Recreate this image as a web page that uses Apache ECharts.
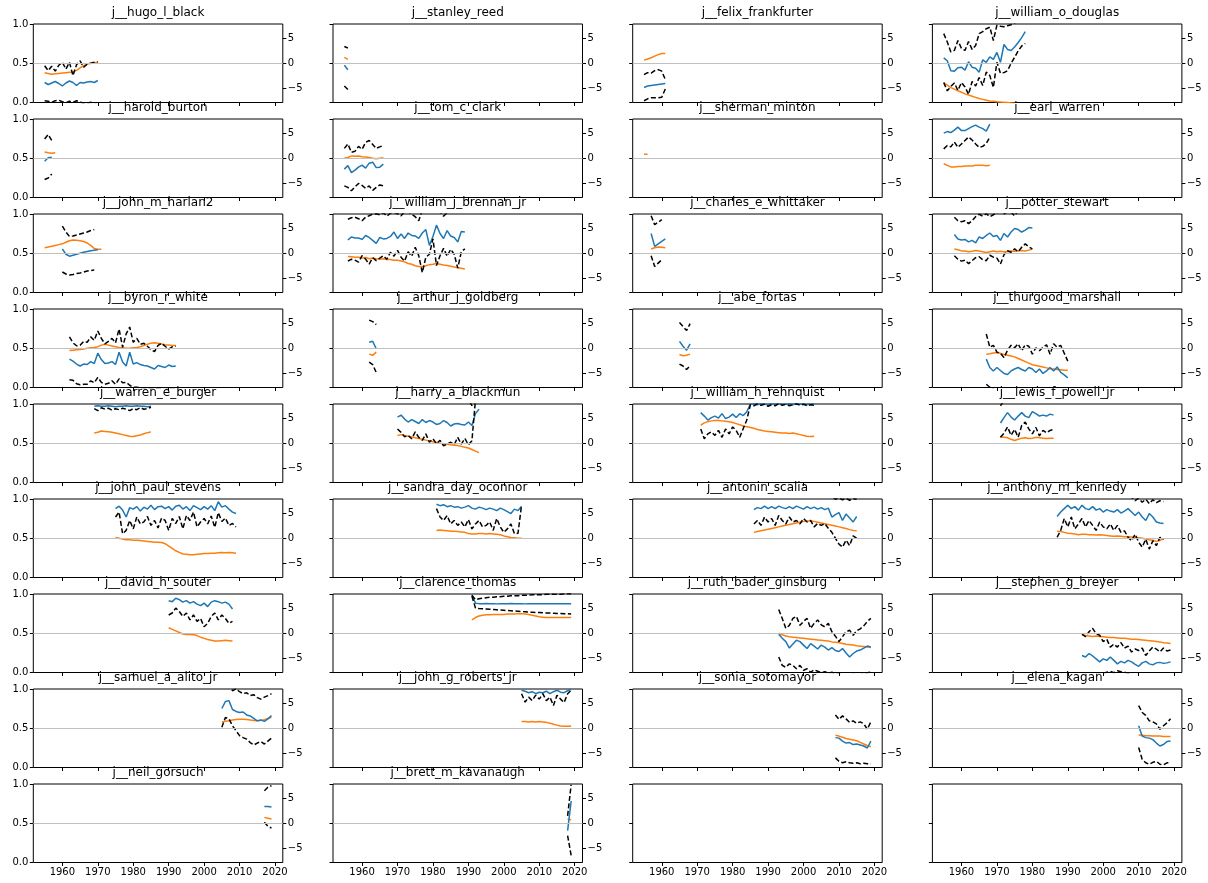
<!DOCTYPE html>
<html>
<head>
<meta charset="utf-8">
<script src="https://cdn.jsdelivr.net/npm/echarts/dist/echarts.min.js"></script>
<style>
  html, body { margin: 0; padding: 0; background: #fff; }
  #chart { width: 1208px; height: 883px; }
</style>
</head>
<body>
<div id="chart"></div>
<script>
// panel titles, one per justice
const justices = [
  'j__hugo_l_black', 'j__stanley_reed', 'j__felix_frankfurter', 'j__william_o_douglas',
  'j__harold_burton', 'j__tom_c_clark', 'j__sherman_minton', 'j__earl_warren',
  'j__john_m_harlan2', 'j__william_j_brennan_jr', 'j__charles_e_whittaker', 'j__potter_stewart',
  'j__byron_r_white', 'j__arthur_j_goldberg', 'j__abe_fortas', 'j__thurgood_marshall',
  'j__warren_e_burger', 'j__harry_a_blackmun', 'j__william_h_rehnquist', 'j__lewis_f_powell_jr',
  'j__john_paul_stevens', 'j__sandra_day_oconnor', 'j__antonin_scalia', 'j__anthony_m_kennedy',
  'j__david_h_souter', 'j__clarence_thomas', 'j__ruth_bader_ginsburg', 'j__stephen_g_breyer',
  'j__samuel_a_alito_jr', 'j__john_g_roberts_jr', 'j__sonia_sotomayor', 'j__elena_kagan',
  'j__neil_gorsuch', 'j__brett_m_kavanaugh'
];

// first year of each panel's series (one value per year after that)
const startYears = [1955, 1955, 1955, 1955, 1955, 1955, 1955, 1955, 1955, 1956, 1957, 1958,
  1962, 1962, 1965, 1967, 1969, 1970, 1971, 1971, 1975, 1981, 1986, 1987,
  1990, 1991, 1993, 1994, 2005, 2005, 2009, 2010, 2017, 2018];

// orange line, left axis (0..1)
const orangeVals = [
  [0.38,0.37,0.36,0.365,0.37,0.375,0.38,0.385,0.39,0.41,0.44,0.47,0.49,0.5,0.505,0.51],
  [0.574,0.549],
  [0.54,0.555,0.57,0.59,0.61,0.625,0.625],
  [0.25,0.22,0.19,0.17,0.15,0.13,0.11,0.095,0.08,0.065,0.05,0.04,0.03,0.02,0.015,0.01,0.006,0.003,0.0,-0.005,-0.01],
  [0.58,0.57,0.565,0.57],
  [0.50,0.51,0.53,0.525,0.53,0.52,0.515,0.51,0.50,0.495,0.50,0.505],
  [0.55,0.55],
  [0.43,0.41,0.39,0.39,0.395,0.395,0.40,0.40,0.40,0.41,0.41,0.41,0.405,0.41],
  [0.57,0.58,0.59,0.60,0.61,0.62,0.64,0.66,0.67,0.665,0.66,0.65,0.63,0.60,0.56,0.55,0.55],
  [0.46,0.455,0.45,0.45,0.44,0.445,0.43,0.44,0.43,0.425,0.43,0.42,0.42,0.41,0.41,0.40,0.39,0.37,0.36,0.34,0.33,0.33,0.34,0.355,0.36,0.37,0.36,0.35,0.345,0.335,0.325,0.315,0.31,0.30],
  [0.555,0.57,0.58,0.575,0.57],
  [0.555,0.545,0.53,0.53,0.52,0.525,0.535,0.53,0.52,0.51,0.52,0.53,0.52,0.525,0.52,0.52,0.53,0.525,0.53,0.535,0.53,0.54,0.55],
  [0.47,0.475,0.48,0.485,0.49,0.50,0.505,0.51,0.52,0.54,0.55,0.54,0.53,0.52,0.51,0.505,0.50,0.50,0.505,0.51,0.52,0.535,0.55,0.565,0.57,0.565,0.555,0.545,0.54,0.535,0.535],
  [0.425,0.41,0.45],
  [0.42,0.405,0.41,0.425],
  [0.425,0.43,0.44,0.445,0.435,0.42,0.41,0.40,0.39,0.37,0.35,0.33,0.31,0.29,0.28,0.27,0.26,0.25,0.24,0.235,0.23,0.225,0.22,0.22],
  [0.63,0.64,0.655,0.65,0.645,0.64,0.63,0.62,0.61,0.60,0.59,0.585,0.595,0.605,0.62,0.635,0.645],
  [0.60,0.61,0.60,0.59,0.58,0.57,0.56,0.55,0.54,0.53,0.52,0.51,0.50,0.495,0.49,0.48,0.475,0.47,0.46,0.45,0.44,0.42,0.40,0.38],
  [0.73,0.76,0.775,0.785,0.79,0.79,0.785,0.78,0.775,0.765,0.75,0.735,0.72,0.71,0.70,0.69,0.675,0.665,0.655,0.65,0.645,0.64,0.635,0.63,0.63,0.625,0.63,0.62,0.61,0.60,0.59,0.585,0.59],
  [0.58,0.575,0.57,0.55,0.535,0.55,0.565,0.57,0.56,0.565,0.575,0.57,0.565,0.56,0.565,0.565],
  [0.51,0.50,0.49,0.48,0.48,0.475,0.475,0.47,0.465,0.46,0.455,0.45,0.45,0.445,0.43,0.40,0.37,0.34,0.32,0.30,0.295,0.29,0.29,0.295,0.30,0.305,0.305,0.31,0.31,0.315,0.32,0.315,0.32,0.315,0.31],
  [0.60,0.605,0.60,0.595,0.59,0.59,0.585,0.58,0.575,0.56,0.555,0.555,0.56,0.56,0.555,0.56,0.555,0.55,0.545,0.53,0.52,0.51,0.505,0.50,0.50],
  [0.575,0.585,0.595,0.605,0.615,0.625,0.635,0.645,0.655,0.665,0.675,0.685,0.695,0.705,0.715,0.72,0.72,0.715,0.705,0.695,0.685,0.675,0.665,0.655,0.645,0.635,0.625,0.61,0.60,0.595],
  [0.59,0.585,0.575,0.565,0.56,0.555,0.545,0.55,0.55,0.545,0.545,0.54,0.545,0.54,0.535,0.53,0.525,0.53,0.525,0.52,0.52,0.515,0.51,0.505,0.50,0.49,0.48,0.475,0.46,0.47,0.50],
  [0.57,0.55,0.53,0.51,0.49,0.485,0.485,0.48,0.47,0.45,0.435,0.42,0.41,0.40,0.40,0.405,0.41,0.405,0.40],
  [0.67,0.70,0.72,0.73,0.735,0.735,0.74,0.74,0.74,0.74,0.745,0.745,0.745,0.75,0.75,0.745,0.74,0.73,0.72,0.71,0.705,0.70,0.70,0.70,0.70,0.70,0.70,0.70,0.70],
  [0.50,0.48,0.465,0.455,0.45,0.445,0.44,0.435,0.43,0.425,0.42,0.415,0.41,0.405,0.40,0.39,0.385,0.38,0.37,0.36,0.355,0.35,0.34,0.335,0.33,0.325,0.32],
  [0.48,0.47,0.465,0.46,0.465,0.46,0.455,0.45,0.445,0.445,0.44,0.435,0.435,0.43,0.425,0.425,0.42,0.415,0.41,0.405,0.40,0.395,0.39,0.38,0.375,0.37],
  [0.58,0.59,0.595,0.605,0.61,0.615,0.615,0.61,0.605,0.60,0.595,0.60,0.61,0.625,0.64],
  [0.585,0.585,0.58,0.585,0.58,0.585,0.58,0.575,0.565,0.55,0.54,0.53,0.525,0.525,0.53],
  [0.41,0.40,0.385,0.37,0.36,0.35,0.34,0.32,0.30,0.28,0.265],
  [0.415,0.41,0.405,0.405,0.40,0.40,0.40,0.395,0.395,0.395],
  [0.575,0.565,0.555],
  [0.55,0.545]
];

// blue line, right axis
const blueVals = [
  [-3.9,-4.3,-4.0,-3.7,-4.1,-4.6,-4.0,-3.6,-3.9,-4.5,-3.9,-4.0,-3.8,-3.7,-3.9,-3.5],
  [-0.4,-1.3],
  [-4.9,-4.6,-4.5,-4.4,-4.3,-4.2,-4.1],
  [1.1,0.5,-1.5,-1.6,-0.9,-0.8,-1.4,0.3,-0.8,-1.0,-1.8,0.7,0.2,1.3,0.8,2.2,0.2,3.8,2.8,2.6,3.3,4.2,5.2,6.4],
  [-0.6,0.1,0.2],
  [-2.2,-1.5,-2.9,-2.4,-1.8,-1.4,-2.0,-1.0,-0.8,-1.9,-1.8,-1.2],
  [],
  [5.1,5.4,5.2,5.7,6.3,5.6,5.6,6.0,6.4,6.7,6.3,6.0,5.5,6.9],
  [null,null,null,null,null,0.9,-0.2,-0.6,-0.4,-0.2,0.0,0.2,0.35,0.5,0.6,0.7],
  [2.7,3.3,3.1,3.1,2.8,3.6,3.2,2.6,2.0,3.2,2.9,3.0,3.4,4.3,3.0,3.9,3.0,4.1,3.6,3.5,3.0,4.1,4.8,1.6,3.4,5.7,4.0,3.0,4.6,3.5,3.2,2.3,4.4,4.3],
  [4.0,1.4,1.9,2.4,2.9],
  [3.8,2.9,2.7,2.8,2.3,2.6,2.1,3.3,3.0,3.6,4.1,3.4,3.6,2.6,4.0,3.3,4.3,5.0,4.8,4.3,4.7,5.2,5.1],
  [-2.2,-2.6,-3.2,-3.6,-3.2,-3.3,-2.7,-3.1,-1.0,-2.3,-3.1,-3.0,-2.7,-3.3,-0.8,-2.8,-3.6,-0.8,-3.2,-2.9,-3.3,-3.5,-3.6,-3.9,-4.2,-3.5,-3.7,-3.9,-3.4,-3.7,-3.6],
  [1.2,1.4,-0.1],
  [1.4,0.4,-0.4,0.9],
  [-2.2,-3.9,-4.6,-3.9,-4.5,-5.1,-5.3,-4.6,-4.2,-3.9,-4.3,-4.6,-3.9,-4.2,-4.9,-4.2,-5.1,-4.6,-3.9,-4.6,-3.8,-4.9,-5.4,-6.0],
  [7.5,7.6,7.5,7.5,7.6,7.5,7.4,7.5,7.5,7.6,7.5,7.5,7.6,7.5,7.5,7.4,7.5],
  [5.3,5.7,4.9,4.3,4.8,4.4,4.0,4.8,4.2,4.6,4.3,3.8,4.0,4.6,4.2,3.5,3.9,4.0,3.8,3.7,4.3,3.6,6.0,6.9],
  [6.2,5.5,4.7,5.2,5.5,5.1,6.0,5.0,5.3,5.9,5.2,6.0,5.6,6.4,7.9,8.0,7.8,8.1,7.9,7.8,8.0,7.9,8.1,7.8,7.9,8.0,7.8,8.1,7.9,8.0,7.8,7.9,8.1],
  [4.1,5.2,6.2,5.3,4.7,5.5,6.2,5.5,5.2,6.4,6.0,5.5,5.7,5.5,5.9,5.7],
  [6.0,6.5,5.7,4.3,6.2,5.9,6.4,5.5,6.3,5.9,6.7,5.8,6.4,6.5,6.0,6.4,5.7,6.5,6.7,5.9,6.4,5.6,6.6,6.2,5.8,6.4,5.9,6.6,5.6,7.4,6.3,6.6,5.9,5.3,5.0],
  [6.9,6.6,6.8,6.4,6.6,6.3,6.4,6.1,6.3,6.6,6.1,5.9,6.3,6.1,5.8,6.1,5.9,5.6,6.1,5.8,5.4,5.0,5.9,5.6,6.5],
  [5.8,6.2,6.0,6.5,6.0,6.4,6.0,6.5,6.2,6.0,6.4,6.0,6.5,6.2,5.9,6.4,6.0,6.3,5.9,6.2,5.8,6.1,4.3,4.8,5.2,3.6,4.9,4.1,3.3,4.4],
  [4.4,5.3,6.0,6.7,6.0,6.4,5.7,6.7,6.0,5.8,6.4,5.7,6.0,5.3,5.8,5.5,5.3,5.8,5.1,5.5,6.0,5.3,4.6,5.3,4.3,3.6,5.0,4.3,3.3,3.1,3.0],
  [6.6,6.4,7.1,6.8,6.3,6.6,6.1,6.4,5.9,5.6,6.1,5.4,6.3,6.6,6.4,6.1,6.3,5.9,4.9],
  [7.7,6.1,6.0,6.0,6.05,6.0,6.0,5.95,6.0,6.0,6.0,6.05,6.0,6.0,6.0,5.95,6.0,6.0,6.0,6.0,6.0,6.0,6.0,6.0,6.0,6.0,6.0,6.0,6.0],
  [-0.2,-1.0,-1.7,-3.0,-2.2,-1.4,-1.7,-2.4,-3.1,-2.1,-2.6,-3.2,-2.4,-2.8,-3.4,-2.9,-3.5,-3.7,-3.1,-4.0,-4.8,-4.1,-3.6,-3.4,-3.0,-2.6,-2.8],
  [-4.5,-4.8,-4.1,-4.6,-5.2,-5.8,-5.2,-5.5,-4.8,-5.5,-6.2,-5.7,-6.0,-5.5,-5.8,-6.3,-6.7,-6.0,-5.7,-6.2,-6.4,-6.0,-5.9,-6.1,-6.0,-5.8],
  [4.0,5.4,5.6,3.8,3.4,3.2,3.3,2.7,2.5,2.0,1.5,1.7,1.4,1.9,2.6],
  [7.7,7.5,7.2,7.4,7.0,7.3,7.2,7.5,7.0,7.4,7.7,7.3,7.2,7.6,7.9],
  [-1.9,-2.0,-2.6,-3.0,-2.9,-3.3,-3.2,-3.4,-3.6,-4.0,-2.6],
  [0.5,-1.6,-1.9,-2.0,-2.3,-3.0,-3.6,-3.3,-2.7,-2.6],
  [3.4,3.4,3.3],
  [-1.5,4.5]
];

// upper dashed bound, right axis (values above the axis top are clipped)
const upperVals = [
  [-0.5,-1.5,-0.6,-1.6,-0.4,0.2,-1.2,0.2,-2.5,-0.3,0.5,-0.8,-0.2,0.0,0.2,0.3],
  [3.4,3.1],
  [-2.3,-1.9,-2.0,-1.5,-1.3,-1.6,-3.3],
  [6.0,4.3,2.3,2.6,4.6,3.0,2.6,4.4,2.8,3.6,6.0,6.4,7.0,7.3,4.6,7.7,7.5,7.4,7.6,7.8,8.2,8.5,8.8,9.0],
  [3.9,4.8,3.6],
  [2.0,2.9,1.2,1.4,2.4,1.8,3.2,3.6,2.8,2.0,2.3,2.6],
  [],
  [1.9,2.6,2.3,3.3,2.2,2.9,3.6,4.3,3.7,2.9,2.2,2.4,3.0,4.3],
  [null,null,null,null,null,5.5,4.3,3.4,3.5,3.7,3.9,4.1,4.3,4.6,4.8],
  [6.9,7.2,7.3,7.0,6.6,7.3,7.6,7.9,8.0,7.8,8.2,7.5,8.1,8.3,8.0,7.6,8.4,8.5,7.9,7.4,6.6,8.8,8.5,8.3,9.0,8.6,8.4,7.5,8.2,8.7,8.9,9.1,8.8,8.3],
  [7.6,5.8,6.3,6.8],
  [7.3,6.6,6.4,6.6,6.0,6.6,7.4,7.9,7.5,8.0,7.4,7.8,8.2,8.5,8.0,8.4,8.3,7.6,8.6,8.9,9.0,9.1,9.2],
  [2.3,1.1,0.5,0.6,1.4,1.2,2.3,1.6,3.5,2.0,0.9,1.4,2.0,1.1,3.9,0.2,2.9,4.3,1.2,2.0,0.8,1.0,0.4,-0.3,-0.7,0.6,1.0,0.4,-0.2,0.3,0.4],
  [5.7,5.4,4.8],
  [5.2,4.4,3.6,5.0],
  [2.9,0.2,0.6,-0.8,-1.0,-1.9,-0.4,0.6,0.1,0.9,-0.5,0.7,0.4,-1.2,0.1,-0.5,0.2,0.7,-1.2,0.9,0.2,0.6,-1.0,-2.6],
  [],
  [9.5,9.5,9.5,9.5,9.5,9.5,9.5,9.5,9.5,9.5,9.5,9.5,9.5,9.5,9.5,9.5,9.5,9.5,9.5,9.5,9.0,7.6,9.2,9.5],
  [],
  [7.6,8.6,9.0,8.8,9.2,8.9,9.1,9.3,9.0,9.4,9.2,9.5,9.1,9.3,9.0,9.2],
  [],
  [],
  [9.5,9.5,9.5,9.5,9.5,9.5,9.5,9.5,9.5,9.5,9.5,9.5,9.5,9.5,9.5,9.5,9.5,9.5,9.5,9.5,9.5,9.5,8.5,7.9,8.2,7.8,8.1,7.7,8.0,7.9],
  [9.5,9.5,9.5,9.5,9.5,9.5,9.5,9.5,9.5,9.5,9.5,9.5,9.5,9.5,9.5,9.5,9.5,9.5,9.5,9.5,9.5,8.3,7.6,8.1,7.3,7.9,7.0,7.8,7.2,7.6,7.4],
  [],
  [7.7,6.8,7.0,7.1,7.2,7.3,7.3,7.4,7.4,7.5,7.5,7.6,7.6,7.6,7.7,7.7,7.7,7.8,7.8,7.8,7.8,7.9,7.9,7.9,7.9,7.9,8.0,8.0,8.0],
  [4.8,3.0,1.0,1.6,3.0,3.4,1.6,2.4,3.0,1.0,2.0,2.7,1.7,1.3,2.0,0.3,-0.6,-1.7,-0.7,0.3,0.6,-0.4,0.5,0.9,1.5,2.4,3.0],
  [-0.2,-0.7,0.3,1.0,-0.1,-0.4,-1.7,-1.2,-2.8,-2.2,-2.8,-1.9,-3.0,-2.6,-3.8,-3.2,-3.5,-3.0,-4.5,-3.6,-2.8,-3.2,-3.8,-3.0,-3.6,-3.4],
  [9.0,9.5,8.8,7.6,8.0,7.4,7.0,7.2,6.6,6.8,6.2,5.9,6.3,6.6,7.0],
  [],
  [2.7,1.8,2.5,1.9,1.2,1.5,1.0,1.3,0.9,-0.2,1.3],
  [4.6,3.2,2.6,1.5,1.3,0.9,-0.2,0.5,1.1,1.9],
  [6.6,7.3,7.6],
  [1.5,7.8]
];

// lower dashed bound, right axis (values below the axis bottom are clipped)
const lowerVals = [
  [-7.6,-7.7,-7.9,-7.6,-7.5,-7.8,-8.0,-7.7,-7.9,-7.6,-7.8,-8.2,-8.1,-7.9,-8.3,-8.4],
  [-4.6,-5.3],
  [-7.6,-7.2,-7.0,-7.0,-7.0,-6.9,-5.2],
  [-3.9,-5.6,-4.7,-4.0,-5.5,-3.9,-4.8,-6.3,-3.7,-4.6,-2.9,-4.5,-1.8,-2.5,-4.9,0.2,-2.0,-1.9,-1.5,0.0,1.2,2.5,3.5,4.0],
  [-4.3,-4.0,-3.2],
  [-5.6,-5.9,-6.6,-5.8,-5.1,-5.5,-6.1,-5.6,-6.5,-5.9,-5.4,-5.6],
  [],
  [],
  [null,null,null,null,null,-3.8,-4.2,-4.4,-4.3,-4.1,-4.0,-3.8,-3.6,-3.5,-3.4],
  [-1.6,-1.2,-1.4,-1.8,-0.5,-1.2,-2.2,-0.9,-1.5,-1.0,-0.5,-1.2,0.2,-0.6,0.6,-0.8,-1.6,0.3,-0.6,1.2,-0.5,-3.9,-0.8,-0.2,2.9,-2.5,-0.5,1.0,-0.6,0.8,-0.2,-3.0,0.3,0.9],
  [-0.5,-2.7,-2.0,-1.3],
  [-0.5,-1.2,-1.6,-1.4,-2.1,-1.5,-0.9,-0.7,-1.3,-1.5,-0.4,-0.8,-1.0,-2.2,-0.3,0.5,0.2,0.9,0.3,1.2,1.9,1.3,0.9],
  [-6.4,-6.5,-7.2,-7.4,-7.3,-7.3,-6.6,-7.0,-5.9,-6.9,-7.3,-7.1,-6.6,-7.3,-6.2,-7.0,-6.9,-7.5,-7.9,-7.9,-8.0,-8.1,-8.2,-8.1,-8.3,-8.1,-8.2,-8.4,-8.0,-8.3,-8.2],
  [-2.8,-3.3,-4.9],
  [-3.2,-3.6,-4.3,-3.5],
  [-7.3,-7.9,-8.3,-8.8,-9.2],
  [7.0,6.6,7.2,6.9,7.1,6.7,7.0,6.8,7.1,6.9,6.6,7.0,6.8,7.2,6.9,7.0,7.3],
  [2.9,2.2,1.3,1.6,0.9,2.3,1.2,0.6,1.9,0.2,0.9,-0.1,0.6,-0.5,-0.2,0.2,-0.3,1.2,-0.2,1.0,-0.3,0.5,8.8,9.5],
  [2.9,0.9,1.9,2.3,1.6,2.6,1.2,2.9,1.9,3.3,2.6,1.2,3.0,4.7,7.8,7.6,8.0,7.7,7.9,7.5,7.8,7.6,8.0,7.7,7.9,7.6,7.8,8.0,7.7,7.9,7.6,7.8,7.7],
  [1.2,2.0,3.3,1.6,2.8,1.2,3.6,4.3,2.9,1.9,3.2,1.5,2.6,2.1,2.6,2.8],
  [4.3,5.3,0.9,1.6,3.6,1.9,4.3,2.9,3.3,4.4,2.6,3.6,2.1,4.1,3.6,1.6,4.0,3.0,4.4,1.9,4.6,3.6,5.3,2.3,3.3,4.0,2.9,4.5,2.2,5.2,3.4,4.1,2.6,3.0,2.3],
  [6.0,4.3,3.6,4.6,2.9,3.6,2.6,3.3,2.3,3.8,1.9,2.9,3.6,2.3,2.6,3.3,1.6,4.0,2.3,1.2,1.9,2.9,0.9,1.0,6.7],
  [2.9,3.6,2.6,4.3,3.3,4.0,2.6,4.6,3.6,2.9,4.3,3.3,3.6,2.9,4.0,3.3,3.6,2.3,3.0,2.6,3.0,2.0,1.2,0.0,-1.2,-1.8,-0.4,-1.5,0.5,0.0],
  [0.2,1.6,4.0,2.3,4.3,1.9,2.9,4.0,2.3,3.6,2.6,1.6,3.3,2.3,1.9,2.9,1.6,2.6,1.2,1.5,0.2,-0.5,0.8,-0.8,-1.8,-0.2,-2.2,-0.5,-1.5,0.2,-0.3],
  [3.7,4.1,5.1,4.4,3.4,4.1,2.7,3.7,2.4,3.0,1.3,2.0,3.4,4.1,2.7,3.7,3.0,2.0,2.4],
  [7.5,5.1,5.0,4.95,4.9,4.85,4.8,4.75,4.7,4.65,4.6,4.55,4.5,4.45,4.4,4.35,4.3,4.25,4.2,4.2,4.15,4.1,4.1,4.05,4.0,4.0,3.95,3.95,3.9],
  [-4.8,-6.5,-6.9,-6.2,-6.5,-7.2,-6.5,-7.5,-7.2,-7.9,-7.4,-7.7,-8.0,-7.8,-8.1,-7.9,-8.3,-8.2,-8.5,-8.4,-8.6,-8.3,-8.5,-8.4,-8.2,-8.0,-7.9],
  [-8.5,-8.3,-8.6,-8.4,-8.2,-8.4,-8.1,-7.9,-7.7,-8.0,-7.6,-7.8,-7.9,-8.1,-8.3,-8.6,-8.8,-8.5,-8.9,-8.7,-8.9,-8.6,-8.8,-8.9,-8.7,-8.6],
  [0.2,2.2,1.9,0.5,-0.5,-1.5,-1.9,-2.2,-2.9,-3.4,-3.0,-2.7,-3.2,-2.6,-2.0],
  [7.0,5.3,6.3,5.6,6.7,5.9,7.0,5.6,6.3,4.6,6.7,5.9,5.2,7.0,7.7],
  [-6.0,-6.7,-7.0,-6.8,-7.0,-7.1,-7.0,-7.2,-7.1,-7.2,-7.2],
  [-3.9,-6.3,-7.0,-7.3,-6.9,-6.7,-7.3,-7.4,-7.0,-7.0],
  [0.2,-0.6,-1.0],
  [-2.5,-6.5]
];

// axis ticks
const yearTicks = [1960, 1970, 1980, 1990, 2000, 2010, 2020];
const rightTicks = [-5, 0, 5];

const chart = echarts.init(document.getElementById('chart'));

const font = 'DejaVu Sans';
const grid = [], xAxis = [], yAxis = [], series = [], title = [];

function toPairs(start, vals) {
  const out = [];
  vals.forEach(function (v, i) {
    if (v !== null) out.push([start + i, v]);
  });
  return out;
}

for (let k = 0; k < 36; k++) {
  const r = Math.floor(k / 4), c = k % 4;
  const left = 33.3 + c * 299.7;
  const top = 24 + r * 95;
  const hasData = k < justices.length;

  grid.push({
    left: left, top: top, width: 249.5, height: 78.5,
    show: true, borderColor: '#000', borderWidth: 1, backgroundColor: 'transparent'
  });

  xAxis.push({
    type: 'value', gridIndex: k, min: 1951.8, max: 2022.2,
    axisLine: { show: false },
    splitLine: { show: false },
    axisTick: { show: true, customValues: yearTicks, length: 3.5, lineStyle: { color: '#000', width: 1 } },
    axisLabel: {
      show: r === 8, customValues: yearTicks, fontSize: 10, color: '#000', margin: 5, fontFamily: font,
      formatter: function (v) { return String(v); }
    }
  });

  // left axis 0..1
  const leftIdx = yAxis.length;
  yAxis.push({
    type: 'value', gridIndex: k, min: 0, max: 1, interval: 0.5, position: 'left',
    axisLine: { show: false },
    splitLine: { show: false },
    axisTick: { show: true, length: 3.5, lineStyle: { color: '#000', width: 1 } },
    axisLabel: {
      show: c === 0, fontSize: 10, color: '#000', margin: 5, fontFamily: font,
      formatter: function (v) { return v.toFixed(1); }
    }
  });

  if (!hasData) continue;

  // right axis
  const rightIdx = yAxis.length;
  yAxis.push({
    type: 'value', gridIndex: k, min: -7.95, max: 7.95, position: 'right',
    axisLine: { show: false },
    splitLine: { show: false },
    axisTick: { show: true, customValues: rightTicks, length: 3.5, lineStyle: { color: '#000', width: 1 } },
    axisLabel: {
      customValues: rightTicks, fontSize: 10, color: '#000', margin: 5, fontFamily: font,
      formatter: function (v) { return v < 0 ? '\u2212' + Math.abs(v) : String(v); }
    }
  });

  title.push({
    text: justices[k], left: left + 124.75, top: top - 17, textAlign: 'center', padding: 0,
    textStyle: { fontSize: 12, fontWeight: 'normal', color: '#000', fontFamily: font }
  });

  const start = startYears[k];
  const base = { type: 'line', xAxisIndex: k, showSymbol: false, symbol: 'none', silent: true, animation: false, clip: true };

  series.push(Object.assign({}, base, {
    yAxisIndex: leftIdx, z: 3,
    data: toPairs(start, orangeVals[k]),
    lineStyle: { color: '#ff7f0e', width: 1.5 },
    itemStyle: { color: '#ff7f0e' },
    markLine: {
      silent: true, symbol: 'none', label: { show: false }, animation: false,
      lineStyle: { color: '#c0c0c0', width: 1, type: 'solid' },
      data: [{ yAxis: 0.5 }]
    }
  }));
  series.push(Object.assign({}, base, {
    yAxisIndex: rightIdx, z: 4,
    data: toPairs(start, blueVals[k]),
    lineStyle: { color: '#1f77b4', width: 1.5 },
    itemStyle: { color: '#1f77b4' }
  }));
  series.push(Object.assign({}, base, {
    yAxisIndex: rightIdx, z: 4,
    data: toPairs(start, upperVals[k]),
    lineStyle: { color: '#000', width: 1.5, type: [5, 2.5] },
    itemStyle: { color: '#000' }
  }));
  series.push(Object.assign({}, base, {
    yAxisIndex: rightIdx, z: 4,
    data: toPairs(start, lowerVals[k]),
    lineStyle: { color: '#000', width: 1.5, type: [5, 2.5] },
    itemStyle: { color: '#000' }
  }));
}

chart.setOption({
  animation: false,
  backgroundColor: '#fff',
  title: title,
  grid: grid,
  xAxis: xAxis,
  yAxis: yAxis,
  series: series
});
</script>
</body>
</html>
